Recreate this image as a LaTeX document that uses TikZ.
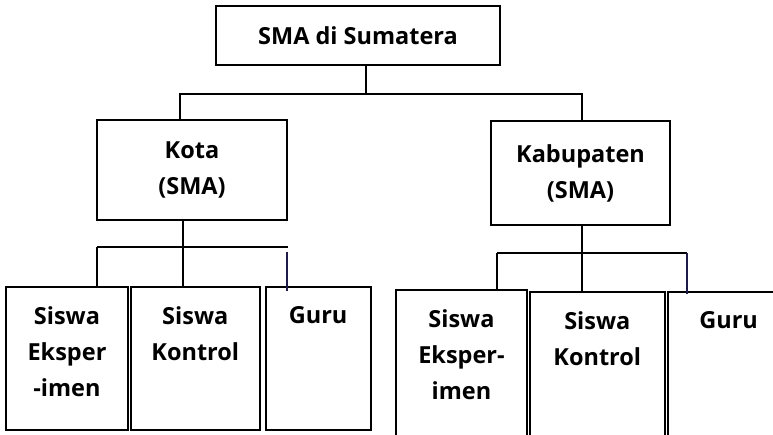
\documentclass[tikz,border=0pt]{standalone}
\usepackage{fontspec}
\setmainfont{Open Sans}
\usetikzlibrary{positioning}
\definecolor{garisnavy}{HTML}{1E1B48}

\begin{document}
\begin{tikzpicture}[
				x=1pt,y=-1pt,
				node distance=1pt,
				kotak/.style={draw,rectangle,line width=1.8pt,inner sep=0pt,align=center,font=\fontsize{23.5}{36}\selectfont\bfseries},
				teks/.style={inner sep=0pt,align=center,font=\fontsize{23.5}{36}\selectfont\bfseries},
				garis/.style={line width=1.5pt},
				garisguru/.style={line width=1.5pt,draw=garisnavy}
				]
				
				% batas gambar
				\useasboundingbox (0,0) rectangle (773,434);
				\clip (0,0) rectangle (773,434);
				
				% Kotak paling atas
				\node[kotak,minimum width=284pt,minimum height=59pt] (sma) at (358,35.5) {SMA di Sumatera};
				
				% Kota dan Kabupaten
				\node[kotak,minimum width=190pt,minimum height=100pt] (kota) at (192,170) {Kota\\(SMA)};
				\node[kotak,minimum width=179pt,minimum height=104pt] (kab) at (580.5,173) {Kabupaten\\(SMA)};
				
				% Kotak bawah Kota
				\node[kotak,minimum width=122pt,minimum height=143pt] (ks1) at (67,358.5) {};
				\node[kotak,minimum width=129pt,minimum height=143pt,right=of ks1] (ks2) {};
				\node[kotak,minimum width=105pt,minimum height=143pt,right=4pt of ks2] (kg) {};
				
				% Kotak bawah Kabupaten
				\node[kotak,minimum width=131pt,minimum height=170pt] (bs1) at (461.5,375) {};
				\node[kotak,minimum width=135pt,minimum height=170pt,right=of bs1,yshift=-2pt] (bs2) {};
				\node[kotak,minimum width=122pt,minimum height=170pt,right=of bs2] (bg) {};
				
				% Isi kotak bawah
				\node[teks,below=20pt of ks1.north] (ks1t) {Siswa\\Eksper\\-imen};
				\node[teks,below=20pt of ks2.north] (ks2t) {Siswa\\Kontrol};
				\node[teks,below=20pt of kg.north] (kgt) {Guru};
				\node[teks,below=20pt of bs1.north] (bs1t) {Siswa\\Eksper-\\imen};
				\node[teks,below=20pt of bs2.north] (bs2t) {Siswa\\Kontrol};
				\node[teks,below=20pt of bg.north] (bgt) {Guru};
				
				% Garis dari SMA
				\coordinate (bus0) at (366,94);
				\draw[garis] (sma.south -| bus0) -- (bus0);
				\draw[garis] ([xshift=-12pt]kota.north) |- (bus0) -| ([xshift=1.5pt]kab.north);
				
				% Garis dari Kota
				\coordinate (kiri1) at (97,247);
				\coordinate (tengah1) at (183,247);
				\coordinate (kanan1) at (288,247);
				\coordinate (guru1) at (287,252);
				\draw[garis] (kiri1) -- (kanan1);
				\draw[garis] (kiri1) -- (kiri1 |- ks1.north);
				\draw[garis] (kota.south -| tengah1) -- (tengah1 |- ks2.north);
				\draw[garisguru] (guru1) -- ([yshift=-5pt]guru1 |- kg.north);
				
				% Garis dari Kabupaten
				\coordinate (kiri2) at (497,253);
				\coordinate (tengah2) at (582,253);
				\coordinate (kanan2) at (687,253);
				\draw[garis] (kiri2) -- (kanan2);
				\draw[garis] (kiri2) -- (kiri2 |- bs1.north);
				\draw[garis] (kab.south -| tengah2) -- (tengah2 |- bs2.north);
				\draw[garisguru] (kanan2) -- ([yshift=-3pt]kanan2 |- bg.north);
				
\end{tikzpicture}
\end{document}
